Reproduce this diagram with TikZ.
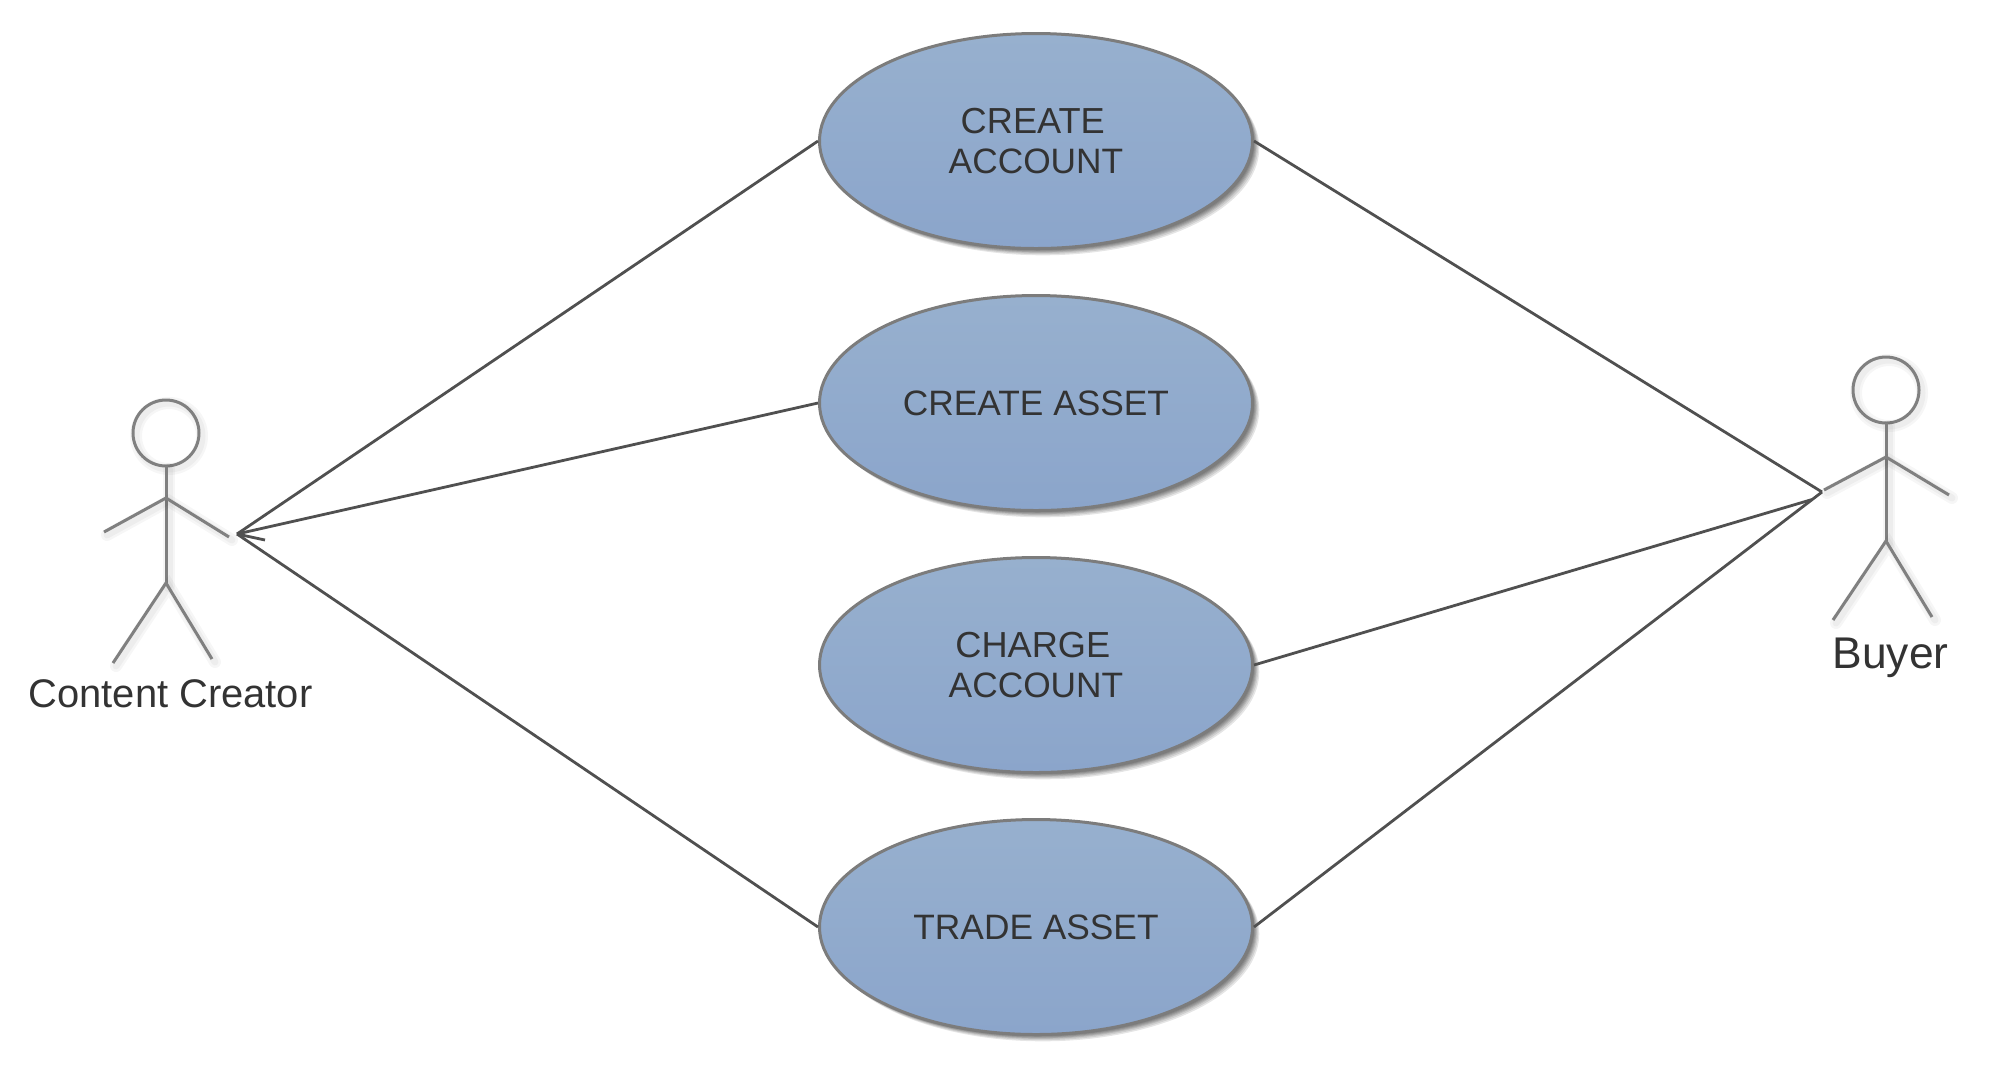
\documentclass[tikz,border=0pt]{standalone}
\usepackage{fontspec}
\setmainfont{Liberation Sans}
\usepackage{xcolor}
\usetikzlibrary{shapes.geometric,shadows}
\definecolor{usecasetop}{HTML}{97B0CE}
\definecolor{usecasebottom}{HTML}{8BA5CB}
\definecolor{usecaseedge}{HTML}{7C7C7C}
\definecolor{actorgray}{HTML}{808080}
\definecolor{linkgray}{HTML}{505050}
\definecolor{textgray}{HTML}{333333}
\newcommand{\upperline}[1]{{\fontsize{18.1pt}{20pt}\selectfont #1\hspace*{3.2pt}}}
\tikzset{
    softshadow/.style={general shadow={shadow xshift=#1pt, shadow yshift=-#1pt, fill=black, opacity=0.1}},
    usecase/.style={ellipse, draw=usecaseedge, line width=1.5pt, minimum width=216.5pt, minimum height=107.5pt,
        inner sep=0pt, top color=usecasetop, bottom color=usecasebottom, text=textgray, align=center,
        font=\fontsize{17.65pt}{20pt}\selectfont,
        softshadow=0.6, softshadow=1, softshadow=1.4, softshadow=1.8, softshadow=2.2, softshadow=2.8, softshadow=3.4},
    actorline/.style={draw=actorgray, line width=1.5pt,
        preaction={draw=black, opacity=0.035, line width=6pt, line cap=round, transform canvas={xshift=1.5pt, yshift=-1.5pt}},
        preaction={draw=black, opacity=0.035, line width=3.5pt, line cap=round, transform canvas={xshift=1.5pt, yshift=-1.5pt}}},
    actorlabel/.style={anchor=base, text=textgray, inner sep=0pt},
    link/.style={draw=linkgray, line width=1.4pt},
}
\begin{document}
\begin{tikzpicture}[x=0.5pt, y=-0.5pt]
    \useasboundingbox (0,0) rectangle (2008,1084);

    % Link ends beside the actors
    \coordinate (creatorend) at (237,534);
    \coordinate (creatorbarb) at (265,540);
    \coordinate (buyerend) at (1822,492);
    \coordinate (buyerjoin) at (1812,499.5);

    % Use cases
    \node[usecase] (account) at (1036,141) {\upperline{CREATE}\\ACCOUNT};
    \node[usecase] (asset) at (1036,403) {CREATE ASSET};
    \node[usecase] (charge) at (1036,665) {\upperline{CHARGE}\\ACCOUNT};
    \node[usecase] (trade) at (1036,927) {TRADE ASSET};

    % Links of the content creator
    \draw[link] (creatorend) -- (account.west);
    \draw[link] (creatorend) -- (asset.west);
    \draw[link] (creatorend) -- (trade.west);
    \draw[link] (creatorend) -- (creatorbarb);

    % Links of the buyer
    \draw[link] (buyerend) -- (account.east);
    \draw[link] (buyerjoin) -- (charge.east);
    \draw[link] (buyerend) -- (trade.east);

    % Content creator
    \begin{scope}
        \draw[actorline] (166,433) circle (33);
        \draw[actorline] (166,466) -- (166,583);
        \draw[actorline] (104,532) -- (166,498) -- (229,537);
        \draw[actorline] (113,663) -- (166,583) -- (212,659);
        \node[actorlabel, font=\fontsize{19.95pt}{24pt}\selectfont] (creator) at (170.5,707) {Content Creator};
    \end{scope}

    % Buyer
    \begin{scope}
        \draw[actorline] (1886,390) circle (33);
        \draw[actorline] (1886,423) -- (1886,541);
        \draw[actorline] (1824,490) -- (1886,457) -- (1949,495);
        \draw[actorline] (1833,620) -- (1886,541) -- (1932,617);
        \node[actorlabel, font=\fontsize{22.2pt}{24pt}\selectfont] (buyer) at (1890.5,668) {Buyer};
    \end{scope}
\end{tikzpicture}
\end{document}
